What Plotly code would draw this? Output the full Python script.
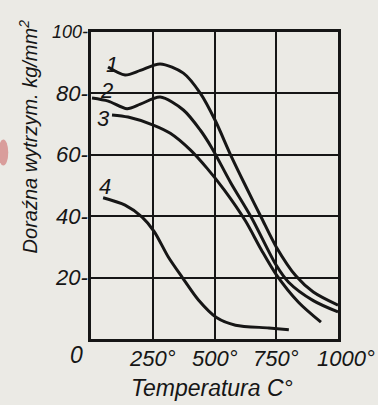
import plotly.graph_objects as go

# Data (temperature °C, strength kg/mm²)
t1 = [69, 138, 200, 280, 374, 443, 504, 565, 625, 690, 750, 830, 900, 1000]
v1 = [88.6, 86.0, 87.5, 89.6, 86.6, 80, 71, 60, 50, 39.5, 30, 20.5, 15.3, 11]
t2 = [4, 70, 146, 200, 280, 374, 443, 491, 565, 650, 750, 800, 900, 1000]
v2 = [78.5, 77.5, 75, 76.5, 78.8, 74.6, 68, 62, 51, 39.5, 24, 18.5, 12.5, 8.8]
t3 = [85, 150, 252, 321, 402, 471, 540, 625, 690, 750, 840, 931]
v3 = [73, 72.3, 69.7, 67, 61.6, 55.5, 48.5, 38.5, 29, 21, 12, 5.5]
t4 = [49, 138, 207, 256, 313, 370, 435, 508, 585, 720, 801]
v4 = [46, 43.6, 39.7, 35, 26.7, 20, 12.7, 7, 4.5, 3.6, 3]
curve_labels = ["1", "2", "3", "4"]
label_t = [85, 61, 49, 57]
label_v = [89.3, 81, 71.7, 49.8]
y_ticks = [20, 40, 60, 80, 100]
x_ticks = [250, 500, 750, 1000]

ink = "#161616"
bg = "#ebeae5"
fnt = "Liberation Sans"

fig = go.Figure()
for t, v in [(t1, v1), (t2, v2), (t3, v3), (t4, v4)]:
    fig.add_trace(go.Scatter(x=t, y=v, mode="lines",
                             line=dict(color=ink, width=3, shape="spline", smoothing=0.8),
                             showlegend=False, hoverinfo="skip"))

for lab, lt, lv in zip(curve_labels, label_t, label_v):
    fig.add_annotation(x=lt, y=lv, text=lab, showarrow=False,
                       font=dict(family=fnt, size=22, color=ink, style="italic"))

# y tick labels with dash
for yv in y_ticks:
    fig.add_annotation(x=0, y=yv, xref="x", yref="y", text=f"{yv}-", showarrow=False,
                       xanchor="right", xshift=-1,
                       font=dict(family=fnt, size=22 if yv < 100 else 18, color=ink, style="italic"))
fig.add_annotation(x=0, y=0, text="0", showarrow=False, xanchor="right", yanchor="top",
                   xshift=-6, yshift=-1,
                   font=dict(family=fnt, size=23, color=ink, style="italic"))
for xv in x_ticks:
    fig.add_annotation(x=xv, y=0, text=f"{xv}°", showarrow=False, yanchor="top", yshift=-5,
                       xshift=8 if xv == 1000 else 0,
                       font=dict(family=fnt, size=22, color=ink, style="italic"))

fig.add_annotation(x=0.49, y=-0.16, xref="paper", yref="paper", text="Temperatura C°",
                   showarrow=False, yanchor="middle", xanchor="center",
                   font=dict(family=fnt, size=23, color=ink, style="italic"))
fig.add_annotation(x=-0.255, y=0.66, xref="paper", yref="paper",
                   text="Doraźna wytrzym. kg/mm<sup>2</sup>", textangle=-90,
                   showarrow=False, xanchor="center", yanchor="middle",
                   font=dict(family=fnt, size=20, color=ink, style="italic"))

fig.update_xaxes(range=[0, 1000], tickvals=[0, 250, 500, 750, 1000], showticklabels=False,
                 showgrid=True, gridcolor=ink, gridwidth=2, zeroline=False,
                 showline=True, linecolor=ink, linewidth=3, mirror=True, ticks="")
fig.update_yaxes(range=[0, 100], tickvals=[0, 20, 40, 60, 80, 100], showticklabels=False,
                 showgrid=True, gridcolor=ink, gridwidth=2, zeroline=False,
                 showline=True, linecolor=ink, linewidth=3, mirror=True, ticks="")

fig.add_shape(type="circle", xref="paper", yref="paper", x0=-0.375, x1=-0.335, y0=0.565, y1=0.65,
              fillcolor="rgba(205,105,105,0.6)", line_width=0)

fig.update_layout(width=378, height=405, margin=dict(l=91, r=40, t=32, b=66),
                  paper_bgcolor=bg, plot_bgcolor=bg)
fig.write_html("out.html")
